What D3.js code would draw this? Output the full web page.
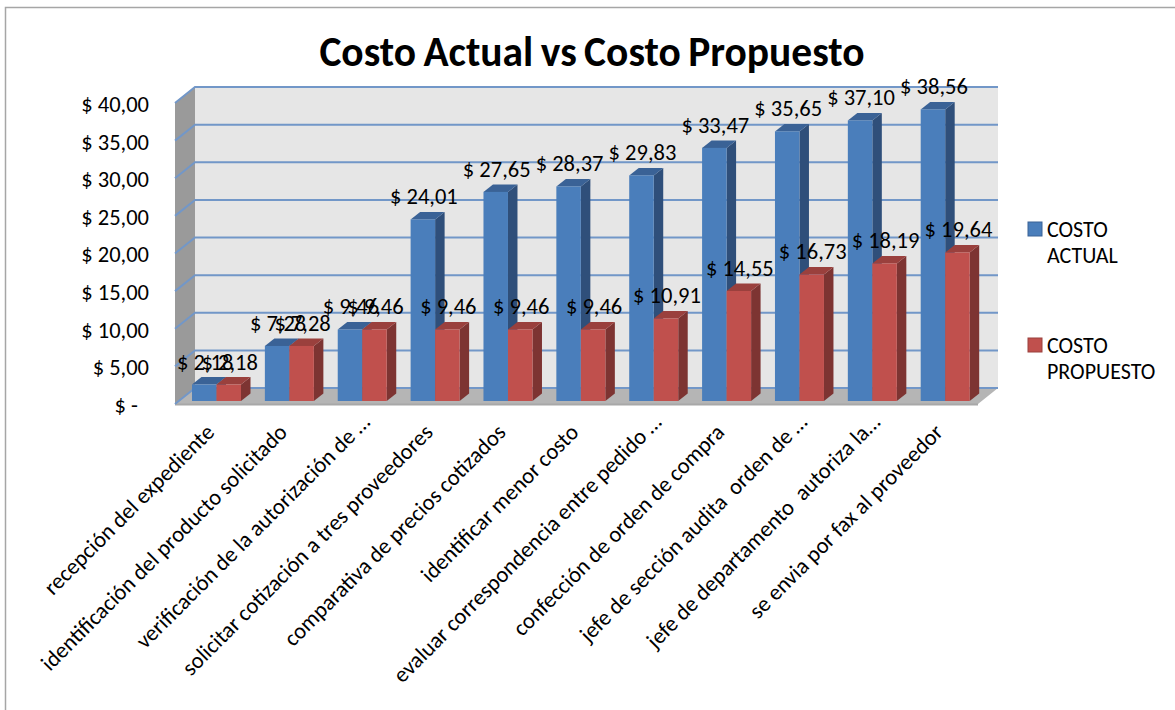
<!DOCTYPE html>
<html>
<head>
<meta charset="utf-8">
<script src="https://d3js.org/d3.v7.min.js"></script>
<style>
html,body{margin:0;padding:0;background:#fff;overflow:hidden}
svg{display:block}
text{font-family:Carlito,Lato,"Open Sans",sans-serif;fill:#000;white-space:pre}
</style>
</head>
<body>
<svg id="chart" width="1175" height="710"></svg>
<script>
const categories = [
  "recepción del expediente",
  "identificación del producto solicitado",
  "verificación de la autorización de …",
  "solicitar cotización a tres proveedores",
  "comparativa de precios cotizados",
  "identificar menor costo",
  "evaluar correspondencia entre pedido …",
  "confección de orden de compra",
  "jefe de sección audita  orden de …",
  "jefe de departamento  autoriza la…",
  "se envia por fax al proveedor"
];
const costoActual = [2.18, 7.28, 9.46, 24.01, 27.65, 28.37, 29.83, 33.47, 35.65, 37.10, 38.56];
const costoPropuesto = [2.18, 7.28, 9.46, 9.46, 9.46, 9.46, 10.91, 14.55, 16.73, 18.19, 19.64];
const yTicks = [0, 5, 10, 15, 20, 25, 30, 35, 40];
const seriesNames = [["COSTO", "ACTUAL"], ["COSTO", "PROPUESTO"]];
const seriesColors = [
  {front: "#4a7ebb", side: "#2f4f7a", top: "#3a6296"},
  {front: "#c0504d", side: "#7d3432", top: "#9a403d"}
];

const svg = d3.select("#chart");
const money = v => v === 0 ? "$ -" : "$ " + v.toFixed(2).replace(".", ",");

// Frame
svg.append("path").attr("d", "M5.5,710V7.5H1175").attr("fill", "none").attr("stroke", "#a6a6a6").attr("stroke-width", 1.5);

// Scales for the front plane of the 3D box
const plotLeft = 175, plotRight = 978;
const y = d3.scaleLinear().domain([0, 40]).range([404, 103]);
const x = d3.scaleBand().domain(d3.range(categories.length)).range([plotLeft, plotLeft + 72.87 * 11]);
const depth = {x: 20, y: -16};
const barDepth = {x: 9.5, y: -7.5};
const barW = 24.5;
const barBase = 401;
const yBar = d3.scaleLinear().domain([0, 40]).range([barBase, barBase - 302.5]);
const labelSize = 22.5;

// Back wall, side wall and floor
const poly = pts => "M" + pts.map(p => p.join(",")).join("L") + "Z";
svg.append("path").attr("d", poly([[plotLeft + depth.x, y(40) + depth.y], [plotRight + depth.x, y(40) + depth.y], [plotRight + depth.x, y(0) + depth.y], [plotLeft + depth.x, y(0) + depth.y]])).attr("fill", "#e6e6e6");
svg.append("path").attr("d", poly([[plotLeft, y(40)], [plotLeft + depth.x, y(40) + depth.y], [plotLeft + depth.x, y(0) + depth.y], [plotLeft, y(0)]])).attr("fill", "#9a9a9a");
svg.append("path").attr("d", poly([[plotLeft, y(0)], [plotLeft + depth.x, y(0) + depth.y], [plotRight + depth.x, y(0) + depth.y], [plotRight, y(0)]])).attr("fill", "#b5b5b5");
svg.append("line").attr("x1", plotLeft).attr("x2", plotRight).attr("y1", y(0) + 0.5).attr("y2", y(0) + 0.5).attr("stroke", "#a8a8a8").attr("stroke-width", 2);

// Gridlines folded over the side wall and back wall
svg.append("g").selectAll("path").data(yTicks).join("path")
  .attr("d", d => `M${plotLeft},${y(d)}L${plotLeft + depth.x},${y(d) + depth.y}H${plotRight + depth.x}`)
  .attr("fill", "none").attr("stroke", "#7297c8").attr("stroke-width", 2);

// Value axis labels
svg.append("g").selectAll("text").data(yTicks).join("text")
  .attr("x", d => d === 0 ? 138 : 149)
  .attr("y", d => y(d) + 1)
  .attr("dy", "0.35em")
  .attr("text-anchor", "end")
  .attr("font-size", labelSize)
  .text(money);

// Bars, each series as front face, top face and right side face
function drawBars(values, offset, color, cls) {
  const g = svg.append("g").attr("class", cls);
  const left = i => x(i) + 17 + offset;
  g.selectAll("path.side").data(values).join("path").attr("class", "side")
    .attr("d", (d, i) => poly([[left(i) + barW, yBar(d)], [left(i) + barW + barDepth.x, yBar(d) + barDepth.y], [left(i) + barW + barDepth.x, barBase + barDepth.y], [left(i) + barW, barBase]]))
    .attr("fill", color.side);
  g.selectAll("path.top").data(values).join("path").attr("class", "top")
    .attr("d", (d, i) => poly([[left(i), yBar(d)], [left(i) + barDepth.x, yBar(d) + barDepth.y], [left(i) + barW + barDepth.x, yBar(d) + barDepth.y], [left(i) + barW, yBar(d)]]))
    .attr("fill", color.top);
  g.selectAll("rect").data(values).join("rect")
    .attr("x", (d, i) => left(i))
    .attr("y", d => yBar(d))
    .attr("width", barW)
    .attr("height", d => barBase - yBar(d))
    .attr("fill", color.front);
}
drawBars(costoActual, 0, seriesColors[0], "actual");
drawBars(costoPropuesto, barW, seriesColors[1], "propuesto");

// Data labels
function drawLabels(values, offset) {
  svg.append("g").selectAll("text").data(values).join("text")
    .attr("x", (d, i) => x(i) + 17 + offset + barW / 2 + 1)
    .attr("y", d => yBar(d) - 15)
    .attr("text-anchor", "middle")
    .attr("font-size", labelSize)
    .text(money);
}
drawLabels(costoActual, 0);
drawLabels(costoPropuesto, barW);

// Category labels, rotated under each pair of bars; shortened labels run a little further along the slope
const ellipsisNudge = d => d.endsWith("…") ? 10 : 0;
svg.append("g").selectAll("text").data(categories).join("text")
  .attr("text-anchor", "end")
  .attr("font-size", labelSize)
  .attr("transform", (d, i) => `translate(${x(i) + 35 + ellipsisNudge(d)},${428 - ellipsisNudge(d)}) rotate(-45)`)
  .attr("dy", "0.35em")
  .text(d => d);

// Title
svg.append("text").attr("x", 592).attr("y", 66).attr("text-anchor", "middle")
  .attr("font-size", 41.5).attr("font-weight", 700).attr("word-spacing", -2)
  .text("Costo Actual vs Costo Propuesto");

// Legend
const legendY = [222, 338];
seriesNames.forEach((lines, k) => {
  svg.append("rect").attr("x", 1028).attr("y", legendY[k]).attr("width", 14).attr("height", 14)
    .attr("fill", seriesColors[k].front).attr("stroke", seriesColors[k].top);
  lines.forEach((t, j) => {
    svg.append("text").attr("x", 1047).attr("y", legendY[k] + 7 + j * 26).attr("dy", "0.35em")
      .attr("font-size", 22).text(t);
  });
});
</script>
</body>
</html>
